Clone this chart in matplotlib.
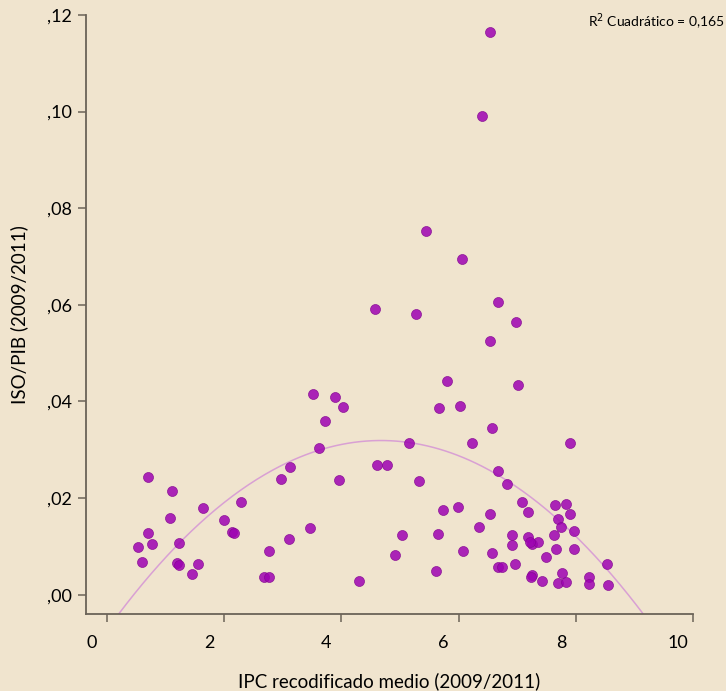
import numpy as np
import matplotlib.pyplot as plt
from matplotlib.transforms import ScaledTranslation

plt.rcParams['font.family'] = ['Lato', 'DejaVu Sans']

# IPC recodificado medio (2009/2011)
ipc = [0.53, 0.60, 0.70, 0.70, 0.77, 1.07, 1.11, 1.22, 1.19, 1.22,
       1.45, 1.56, 1.63, 2.00, 2.14, 2.16, 2.28, 2.68, 2.77, 2.76,
       2.96, 3.10, 3.13, 3.47, 3.51, 3.62, 3.72, 3.89, 3.96, 4.03,
       4.30, 4.58, 4.61, 4.78, 4.91, 5.03, 5.15, 5.27, 5.33, 5.44,
       5.61, 5.65, 5.67, 5.74, 5.80, 5.99, 6.02, 6.05, 6.08, 6.22,
       6.35, 6.40, 6.53, 6.53, 6.53, 6.57, 6.57, 6.67, 6.67, 6.67,
       6.74, 6.83, 6.91, 6.91, 6.97, 6.98, 7.01, 7.08, 7.19, 7.18,
       7.25, 7.35, 7.22, 7.25, 7.23, 7.42, 7.49, 7.62, 7.65, 7.66,
       7.70, 7.74, 7.83, 7.90, 7.90, 7.97, 7.97, 7.69, 7.77, 7.83,
       8.22, 8.22, 8.53, 8.55]

# ISO/PIB (2009/2011)
iso = [0.0098, 0.0068, 0.0243, 0.0127, 0.0104, 0.0158, 0.0214, 0.0106, 0.0066, 0.0061,
       0.0042, 0.0063, 0.0179, 0.0154, 0.0130, 0.0128, 0.0192, 0.0036, 0.0036, 0.0090,
       0.0239, 0.0116, 0.0265, 0.0138, 0.0415, 0.0304, 0.0359, 0.0410, 0.0237, 0.0388,
       0.0028, 0.0591, 0.0268, 0.0268, 0.0083, 0.0123, 0.0314, 0.0581, 0.0236, 0.0752,
       0.0048, 0.0126, 0.0386, 0.0175, 0.0442, 0.0181, 0.0390, 0.0694, 0.0090, 0.0314,
       0.0140, 0.0991, 0.1164, 0.0526, 0.0168, 0.0346, 0.0086, 0.0605, 0.0256, 0.0057,
       0.0057, 0.0230, 0.0123, 0.0102, 0.0063, 0.0564, 0.0434, 0.0191, 0.0172, 0.0119,
       0.0105, 0.0110, 0.0110, 0.0041, 0.0037, 0.0028, 0.0077, 0.0123, 0.0185, 0.0095,
       0.0157, 0.0141, 0.0187, 0.0168, 0.0315, 0.0132, 0.0095, 0.0024, 0.0044, 0.0026,
       0.0037, 0.0022, 0.0063, 0.0019]

xticks = [0, 2, 4, 6, 8, 10]
yticks = [0.00, 0.02, 0.04, 0.06, 0.08, 0.10, 0.12]
ytick_labels = [',00', ',02', ',04', ',06', ',08', ',10', ',12']

bg = '#F0E4CE'
fig = plt.figure(figsize=(7.26, 6.91), dpi=100, facecolor=bg)
ax = fig.add_axes([86 / 726, 77 / 691, 607 / 726, 599 / 691])
ax.set_facecolor(bg)

ax.scatter(ipc, iso, s=52, color='#9E02B2', edgecolors='#82068F',
           linewidths=0.5, alpha=0.85, zorder=3)

# ajuste cuadratico
coef = np.polyfit(ipc, iso, 2)
xs = np.linspace(-0.36, 10, 300)
ax.plot(xs, np.polyval(coef, xs), color='#D9A0D4', lw=1.1, zorder=2)

ax.set_xlim(-0.36, 10)
ax.set_ylim(-0.004, 0.12)
ax.set_xticks(xticks)
ax.set_xticklabels([str(t) for t in xticks])
ax.set_yticks(yticks)
ax.set_yticklabels(ytick_labels)

for s in ['top', 'right']:
    ax.spines[s].set_visible(False)
for s in ['left', 'bottom']:
    ax.spines[s].set_color('#6B6358')
    ax.spines[s].set_linewidth(1.3)

ax.tick_params(axis='both', colors='#6B6358', labelcolor='black',
               length=6, width=1.1, labelsize=13)
ax.tick_params(axis='x', pad=9)
ax.tick_params(axis='y', pad=4)

# etiquetas del eje x desplazadas a la izquierda como en SPSS
shift = ScaledTranslation(-15 / 100, 0, fig.dpi_scale_trans)
for lab in ax.get_xticklabels():
    lab.set_transform(lab.get_transform() + shift)

ax.set_xlabel('IPC recodificado medio (2009/2011)', fontsize=13.5, va='center')
ax.xaxis.set_label_coords(0.5, -67 / 599)
ax.set_ylabel('ISO/PIB (2009/2011)', fontsize=13.5, labelpad=14)

fig.text(0.999, 1 - 22 / 691, 'R$^2$ Cuadrático = 0,165', ha='right',
         va='center', fontsize=10)

fig.savefig('out.png', dpi=100, facecolor=bg)
